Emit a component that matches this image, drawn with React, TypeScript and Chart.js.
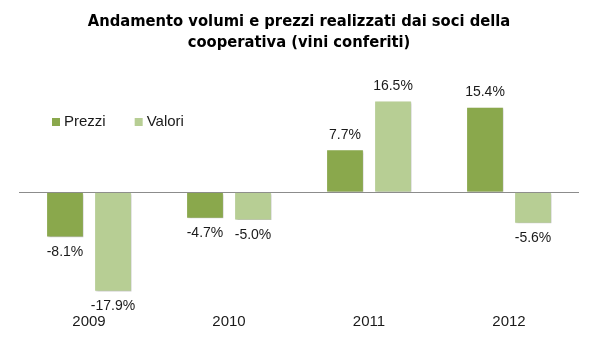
import React, { useEffect, useRef } from "react";
import { Chart, registerables } from "chart.js";

Chart.register(...registerables);

const TITLE_LINES = [
  "Andamento volumi e prezzi realizzati dai soci della",
  "cooperativa (vini conferiti)",
];
const YEARS = ["2009", "2010", "2011", "2012"];
const PREZZI = [-8.1, -4.7, 7.7, 15.4];
const VALORI = [-17.9, -5.0, 16.5, -5.6];
const SERIES_NAMES = ["Prezzi", "Valori"];
const COLORS = ["#8AA84C", "#B7CE94"];

const LABEL_FONT = "14px 'Liberation Sans', Arial, sans-serif";

const shadowPlugin = {
  id: "barShadow",
  beforeDatasetsDraw(chart: any) {
    const ctx = chart.ctx;
    ctx.save();
    ctx.shadowColor = "rgba(0,0,0,0.28)";
    ctx.shadowBlur = 2;
    ctx.shadowOffsetX = 1.5;
    ctx.shadowOffsetY = 1.5;
  },
  afterDatasetsDraw(chart: any) {
    chart.ctx.restore();
  },
};

const valueLabelPlugin = {
  id: "valueLabels",
  afterDatasetsDraw(chart: any) {
    const ctx = chart.ctx;
    ctx.save();
    ctx.font = LABEL_FONT;
    ctx.fillStyle = "#1a1a1a";
    ctx.textAlign = "center";
    ctx.textBaseline = "middle";
    chart.data.datasets.forEach((ds: any, di: number) => {
      const meta = chart.getDatasetMeta(di);
      meta.data.forEach((el: any, i: number) => {
        const v = ds.data[i] as number;
        const y = v >= 0 ? el.y - 15 : el.y + 15;
        ctx.fillText(v.toFixed(1) + "%", el.x, y);
      });
    });
    ctx.restore();
  },
};

const legendPlugin = {
  id: "insideLegend",
  afterDraw(chart: any) {
    const ctx = chart.ctx;
    const area = chart.chartArea;
    ctx.save();
    ctx.font = "15px 'Liberation Sans', Arial, sans-serif";
    ctx.textBaseline = "middle";
    ctx.textAlign = "left";
    let x = area.left + 33;
    const yMid = 122;
    chart.data.datasets.forEach((ds: any) => {
      ctx.fillStyle = ds.backgroundColor;
      ctx.fillRect(x, yMid - 4, 8, 8);
      ctx.fillStyle = "#1a1a1a";
      ctx.fillText(ds.label, x + 12, yMid);
      x += 12 + ctx.measureText(ds.label).width + 29;
    });
    ctx.restore();
  },
};

export default function App() {
  const ref = useRef<HTMLCanvasElement | null>(null);

  useEffect(() => {
    if (!ref.current) return;
    const chart = new Chart(ref.current, {
      type: "bar",
      data: {
        labels: YEARS,
        datasets: [
          {
            label: SERIES_NAMES[0],
            data: PREZZI,
            backgroundColor: COLORS[0],
            borderColor: "#ffffff",
            borderWidth: 0.6,
            categoryPercentage: 0.686,
            barPercentage: 0.77,
          },
          {
            label: SERIES_NAMES[1],
            data: VALORI,
            backgroundColor: COLORS[1],
            borderColor: "#ffffff",
            borderWidth: 0.6,
            categoryPercentage: 0.686,
            barPercentage: 0.77,
          },
        ],
      },
      options: {
        responsive: false,
        animation: false,
        layout: { padding: { left: 19, right: 19, top: 0, bottom: 15 } },
        plugins: {
          legend: { display: false },
          tooltip: { enabled: false },
          title: {
            display: true,
            text: TITLE_LINES,
            color: "#000000",
            font: {
              family: "'Liberation Sans Narrow', 'DejaVu Sans Condensed', 'Liberation Sans', sans-serif",
              size: 16.4,
              weight: "bold",
              lineHeight: 1.3,
            },
            padding: { top: 11, bottom: 28 },
          },
        },
        scales: {
          x: {
            grid: { display: false, drawTicks: false },
            border: { display: false },
            ticks: {
              color: "#1a1a1a",
              padding: 10,
              font: { family: "'Liberation Sans', Arial, sans-serif", size: 15 },
            },
          },
          y: {
            min: -20,
            max: 20,
            ticks: { display: false, stepSize: 10 },
            border: { display: false },
            grid: {
              drawTicks: false,
              color: (c: any) => (c.tick && c.tick.value === 0 ? "#8c8c8c" : "rgba(0,0,0,0)"),
              lineWidth: 1,
            },
          },
        },
      },
      plugins: [shadowPlugin, valueLabelPlugin, legendPlugin],
    });
    return () => chart.destroy();
  }, []);

  return (
    <div
      style={{
        position: "fixed",
        left: 0,
        top: 0,
        width: 598,
        height: 356,
        background: "#ffffff",
      }}
    >
      <canvas ref={ref} width={598} height={356} />
    </div>
  );
}
